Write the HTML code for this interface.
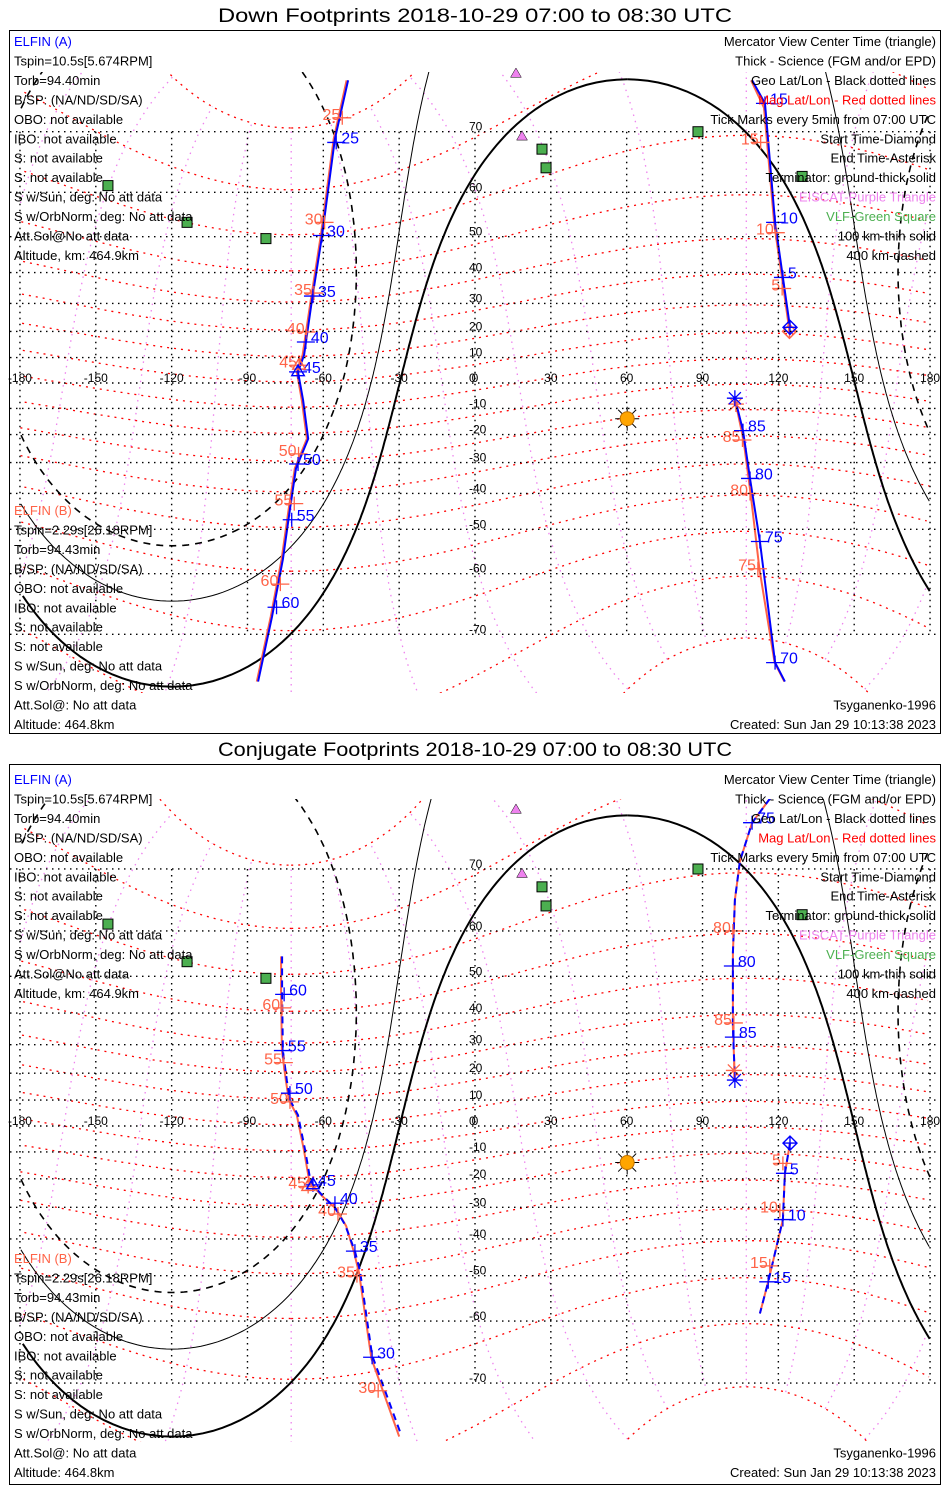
<!DOCTYPE html>
<html><head><meta charset="utf-8"><style>
html,body{margin:0;padding:0;background:#fff;width:950px;height:1500px;overflow:hidden;}
svg{display:block;font-family:"Liberation Sans",sans-serif;}
</style></head><body>
<svg id="chart" width="950" height="1500" viewBox="0 0 950 1500" xmlns="http://www.w3.org/2000/svg"></svg>
<script>
// ---------- data ----------
const latTicks = [70,60,50,40,30,20,10,0,-10,-20,-30,-40,-50,-60,-70];
const lonTicks = [-180,-150,-120,-90,-60,-30,0,30,60,90,120,150,180];
const magPole = [80.5, -72.7];
const sunPos = [-14.0, 60.2];
const vlfLon = [-145.2,-113.9,-82.7,26.5,28.1,88.2,129.4];
const vlfLat = [61.3,53.5,49.5,67.5,64.5,70.0,63.0];
const eiscatLon = [16.2,18.6];
const eiscatLat = [76.5,69.3];

// Panel 1 (down footprints) - ELFIN A
const d1aLon = [-50.2,-55.4,-60.5,-64.5,-67.6,-70.0,-68.0,-66.0,-70.8,-73.2,-76.0,-80.3,-85.8];
const d1aLat = [75.9,69.0,50.3,31.0,11.0,4.4,-6.8,-21.5,-32.0,-44.5,-57.0,-67.5,-75.5];
const d1aTickMin = [25,30,35,40,45,50,55,60];
const d1aTickLon = [-54.9,-60.5,-64.1,-66.9,-70.0,-70.0,-72.5,-78.5];
const d1aTickLat = [68.5,50.3,32.5,16.0,4.4,-30.5,-47.5,-66.0];
const d2aLon = [124.6,121.8,118.7,114.7,109.6];
const d2aLat = [21.5,38.5,53.5,73.5,75.9];
const d2aTickMin = [5,10,15];
const d2aTickLon = [121.8,118.7,114.7];
const d2aTickLat = [38.5,53.5,73.5];
const d3aLon = [102.8,106.0,108.8,112.7,118.7,122.6];
const d3aLat = [-6.0,-18.5,-35.3,-53.0,-73.5,-75.5];
const d3aTickMin = [85,80,75,70];
const d3aTickLon = [106.0,108.8,112.7,118.7];
const d3aTickLat = [-18.5,-35.3,-53.0,-73.5];
// Panel 1 - ELFIN B
const d1bLon = [-50.8,-55.9,-61.0,-65.0,-68.2,-70.5,-68.5,-66.5,-71.3,-73.7,-76.5,-80.8,-86.3];
const d1bLat = [75.9,69.0,50.3,31.0,11.0,4.4,-6.8,-21.5,-32.0,-44.5,-57.0,-67.5,-75.5];
const d1bTickMin = [25,30,35,40,45,50,55,60];
const d1bTickLon = [-52.5,-59.5,-63.7,-66.6,-69.6,-69.8,-71.5,-77.0];
const d1bTickLat = [71.8,53.5,33.5,19.8,7.0,-27.0,-43.0,-62.0];
const d2bLon = [124.4,121.6,118.4,114.3,109.2];
const d2bLat = [20.0,37.5,53.0,73.0,75.9];
const d2bTickMin = [5,10,15];
const d2bTickLon = [121.5,119.0,113.0];
const d2bTickLat = [35.0,51.0,68.5];
const d3bLon = [103.2,106.2,109.0,112.5,118.5,122.4];
const d3bLat = [-8.3,-22.0,-40.0,-59.0,-73.5,-75.5];
const d3bTickMin = [85,80,75];
const d3bTickLon = [105.8,108.8,111.9];
const d3bTickLat = [-22.0,-40.0,-59.0];

// Panel 2 (conjugate footprints) - ELFIN A
const c1aLon = [-76.3,-76.3,-76.0,-74.4,-73.2,-70.0,-67.2,-65.3,-64.1,-60.5,-55.4,-51.4,-47.5,-45.5,-40.7,-29.7];
const c1aLat = [54.7,45.3,28.0,17.2,10.0,4.2,-9.2,-19.6,-22.2,-25.8,-30.0,-35.7,-43.5,-48.8,-66.0,-75.5];
const c1aTickMin = [60,55,50,45,40,35,30];
const c1aTickLon = [-75.5,-76.0,-73.2,-64.1,-55.4,-47.5,-40.7];
const c1aTickLat = [45.3,28.0,12.6,-22.2,-28.6,-43.5,-66.3];
const c2aLon = [116.7,109.6,104.8,102.8,102.0,102.0,102.8];
const c2aLat = [77.5,75.3,71.0,65.5,55.5,35.5,17.5];
const c2aTickMin = [75,80,85];
const c2aTickLon = [109.6,102.0,102.4];
const c2aTickLat = [75.3,52.5,32.5];
const c3aLon = [124.6,122.6,121.8,116.0,112.7];
const c3aLat = [-6.6,-18.0,-34.0,-51.5,-58.5];
const c3aTickMin = [5,10,15];
const c3aTickLon = [122.6,121.8,116.0];
const c3aTickLat = [-18.0,-34.0,-51.5];
// Panel 2 - ELFIN B
const c1bLon = [-76.7,-76.7,-76.4,-74.8,-73.6,-70.5,-67.7,-65.8,-64.6,-60.0,-55.0,-51.0,-47.8,-45.8,-41.0,-30.0];
const c1bLat = [54.7,45.3,28.0,17.2,10.0,4.2,-9.2,-19.6,-22.2,-26.5,-30.5,-36.0,-44.0,-49.5,-66.5,-76.0];
const c1bTickMin = [60,55,50,45,40,35,30];
const c1bTickLon = [-76.3,-75.6,-73.2,-66.0,-54.2,-46.7,-38.3];
const c1bTickLat = [41.5,23.8,9.3,-22.8,-32.2,-50.0,-71.0];
const c2bTickMin = [80,85];
const c2bTickLon = [102.0,102.4];
const c2bTickLat = [60.0,37.0];
const c3bTickMin = [5,10,15];
const c3bTickLon = [121.8,120.6,116.6];
const c3bTickLat = [-14.3,-31.0,-47.5];

// ---------- helpers ----------
const svg = document.getElementById('chart');
const NS = 'http://www.w3.org/2000/svg';
const D = Math.PI/180;
const RED = '#ff6347', BLUE = '#0000ff';
function mk(tag, attrs, parent){
  const e = document.createElementNS(NS, tag);
  for (const k in attrs) e.setAttribute(k, attrs[k]);
  (parent||svg).appendChild(e);
  return e;
}
function txt(s, x, y, o, parent){
  const e = mk('text', {x:x, y:y, 'font-size':o.size||13, fill:o.fill||'#000', 'text-anchor':o.anchor||'start'}, parent);
  if (o.len) { e.setAttribute('textLength', o.len); e.setAttribute('lengthAdjust','spacingAndGlyphs'); }
  e.textContent = s;
  return e;
}
function panelScale(p){
  return {
    x: lon => 475 + lon*2.528,
    y: lat => {
      const l = Math.max(-86, Math.min(86, lat));
      const y = p.y0 - p.k*Math.log(Math.tan(Math.PI/4 + l*D/2));
      return Math.max(p.top+2, Math.min(p.top+p.h-2, y));
    }
  };
}
function drawSegs(g, pts, s, style, name){
  let segs=[[]];
  for (let i=0;i<pts.length;i++){
    if (i>0 && Math.abs(pts[i][0]-pts[i-1][0])>180) segs.push([]);
    segs[segs.length-1].push(pts[i]);
  }
  segs.forEach(seg=>{
    if (seg.length<2) return;
    const d = seg.map((q,i)=>(i?'L':'M')+s.x(q[0]).toFixed(1)+','+s.y(q[1]).toFixed(1)).join('');
    const e = mk('path', Object.assign({d:d, fill:'none'}, style), g);
    
    
  });
}
function norm(l){ while(l>180) l-=360; while(l<-180) l+=360; return l; }
function smallCircle(c, r){
  const pts=[], f1=c[0]*D, l1=c[1]*D, rr=r*D;
  for (let t=0;t<=360;t+=1){
    const th=t*D;
    const f2=Math.asin(Math.sin(f1)*Math.cos(rr)+Math.cos(f1)*Math.sin(rr)*Math.cos(th));
    const l2=l1+Math.atan2(Math.sin(th)*Math.sin(rr)*Math.cos(f1), Math.cos(rr)-Math.sin(f1)*Math.sin(f2));
    pts.push([norm(l2/D), f2/D]);
  }
  return pts;
}
function magToGeo(mlat, mlon){
  const c=(90-magPole[0])*D, lp=magPole[1]*D;
  const v=[Math.cos(mlat*D)*Math.cos(mlon*D), Math.cos(mlat*D)*Math.sin(mlon*D), Math.sin(mlat*D)];
  const a=[Math.cos(c)*v[0]+Math.sin(c)*v[2], v[1], -Math.sin(c)*v[0]+Math.cos(c)*v[2]];
  const b=[Math.cos(lp)*a[0]-Math.sin(lp)*a[1], Math.sin(lp)*a[0]+Math.cos(lp)*a[1], a[2]];
  return [Math.atan2(b[1],b[0])/D, Math.asin(b[2])/D];
}
function polyline(g, lons, lats, s, style, name){
  const d = lons.map((l,i)=>(i?'L':'M')+s.x(l).toFixed(1)+','+s.y(lats[i]).toFixed(1)).join('');
  const e = mk('path', Object.assign({d:d, fill:'none'}, style), g);
  
  
}
function ticks(g, mins, lons, lats, s, color, side, name){
  mins.forEach((m,i)=>{
    const x=s.x(lons[i]), y=s.y(lats[i]);
    const t = mk('path', {d:`M${x-9},${y}H${x+9}M${x},${y-7}V${y+7}`, stroke:color, 'stroke-width':1.3, fill:'none'}, g);
    
    
    const lb = side>0 ? txt(String(m), x+5, y+1, {size:16, fill:color}, g) : txt(String(m), x-2, y+2, {size:16, fill:color, anchor:'end'}, g);
    
    
  });
}
function triangle(g, x, y, color, sz, fill){
  return mk('path', {d:`M${x},${y-sz}L${x+sz*0.9},${y+sz*0.55}L${x-sz*0.9},${y+sz*0.55}Z`, stroke:color, 'stroke-width':1.4, fill:fill||'none'}, g);
}
function diamond(g, x, y, color){
  return mk('path', {d:`M${x},${y-7}L${x+7},${y}L${x},${y+7}L${x-7},${y}ZM${x-7},${y}H${x+7}M${x},${y-7}V${y+7}`, stroke:color, 'stroke-width':1.4, fill:'none'}, g);
}
function asterisk(g, x, y, color){
  return mk('path', {d:`M${x-8},${y}H${x+8}M${x},${y-8}V${y+8}M${x-6},${y-6}L${x+6},${y+6}M${x-6},${y+6}L${x+6},${y-6}`, stroke:color, 'stroke-width':1.3, fill:'none'}, g);
}

// ---------- panel ----------
function panel(p){
  const s = panelScale(p);
  const frame = mk('rect', {x:9.5, y:p.top+0.5, width:931, height:p.h, fill:'none', stroke:'#000', 'stroke-width':1});
  
  
  const t = txt(p.title, 475, p.top-8, {size:19, anchor:'middle', len:514});
  
  

  const cp = mk('clipPath', {id:'clip-'+p.id});
  mk('rect', {x:10, y:p.mapTop, width:930, height:p.mapBot-p.mapTop}, cp);
  const g = mk('g', {'clip-path':'url(#clip-'+p.id+')'});
  
  
  const gg = mk('g', {});
  
  

  for (let ml=0; ml<360; ml+=30){
    const pts=[]; for (let a=-80;a<=80;a+=2) pts.push(magToGeo(a, ml));
    drawSegs(g, pts, s, {stroke:'#ee82ee', 'stroke-width':1.3, 'stroke-dasharray':'1.5,5'}, 'mag-lon-line');
  }
  for (let ma=-80; ma<=80; ma+=10){
    const pts=[]; for (let ml=0;ml<=360;ml+=2) pts.push(magToGeo(ma, ml));
    drawSegs(g, pts, s, {stroke:'#ff0000', 'stroke-width':1.3, 'stroke-dasharray':'2,5'}, 'mag-lat-line');
  }
  const yTop=s.y(70), yBot=s.y(-70);
  latTicks.forEach(la=>{
    const y=s.y(la);
    const l = mk('line', {x1:10, x2:940, y1:y, y2:y, stroke:'#000', 'stroke-width':1.4, 'stroke-dasharray':'1.5,4.5'}, gg);
    
    
    const tl = txt(String(la), 469, y-1, {size:12}, gg);
    
    
  });
  lonTicks.forEach(lo=>{
    const x=s.x(lo);
    const l = mk('line', {x1:x, x2:x, y1:yTop, y2:yBot, stroke:'#000', 'stroke-width':1.4, 'stroke-dasharray':'1.5,4.5'}, gg);
    
    
    const tl = txt(String(lo), x, s.y(0)-1, {size:12, anchor:'middle'}, gg);
    
    
  });
  drawSegs(g, smallCircle(sunPos, 90), s, {stroke:'#000', 'stroke-width':2}, 'terminator-ground');
  drawSegs(g, smallCircle(sunPos, 101), s, {stroke:'#000', 'stroke-width':1}, 'terminator-100km');
  drawSegs(g, smallCircle(sunPos, 112), s, {stroke:'#000', 'stroke-width':1.6, 'stroke-dasharray':'7,6'}, 'terminator-400km');
  const sx=s.x(sunPos[1]), sy=s.y(sunPos[0]);
  const rays = mk('path', {d:`M${sx-12},${sy}H${sx+12}M${sx},${sy-12}V${sy+12}M${sx-9},${sy-9}L${sx+9},${sy+9}M${sx-9},${sy+9}L${sx+9},${sy-9}`, stroke:'#000', 'stroke-width':1});
  
  
  const sun = mk('circle', {cx:sx, cy:sy, r:7, fill:'#ffa500', stroke:'#c07000'});
  
  
  vlfLon.forEach((lo,i)=>{
    const r = mk('rect', {x:s.x(lo)-5, y:s.y(vlfLat[i])-5, width:10, height:10, fill:'#4caf50', stroke:'#000', 'stroke-width':1});
    
    
  });
  eiscatLon.forEach((lo,i)=>{
    const e = triangle(svg, s.x(lo), s.y(eiscatLat[i]), '#000', 6, '#ee82ee');
    e.setAttribute('stroke-width', 0.5);
    
    
  });
  p.draw(g, s);

  const left = [['ELFIN (A)',BLUE]].concat(p.aLines.map(l=>[l,'#000']));
  left.forEach((l,i)=>{ const e=txt(l[0], 14, p.aY+i*p.step, {fill:l[1], size:13});   });
  const leftB = [['ELFIN (B)',RED]].concat(p.bLines.map(l=>[l,'#000']));
  leftB.forEach((l,i)=>{ const e=txt(l[0], 14, p.bY+i*p.step, {fill:l[1], size:13});   });
  const right = [['Mercator View Center Time (triangle)','#000'],['Thick - Science (FGM and/or EPD)','#000'],['Geo Lat/Lon - Black dotted lines','#000'],['Mag Lat/Lon - Red dotted lines','#ff0000'],['Tick Marks every 5min from 07:00 UTC','#000'],['Start Time-Diamond','#000'],['End Time-Asterisk','#000'],['Terminator: ground-thick solid','#000'],['EISCAT-Purple Triangle','#ee82ee'],['VLF-Green Square','#4caf50'],['100 km-thin solid','#000'],['400 km-dashed','#000']];
  right.forEach((l,i)=>{ const e=txt(l[0], 936, p.aY+i*p.step, {fill:l[1], anchor:'end', size:13});   });
  const m1=txt('Tsyganenko-1996', 936, p.bY+10*p.step, {anchor:'end'});  
  const m2=txt('Created: Sun Jan 29 10:13:38 2023', 936, p.bY+11*p.step, {anchor:'end'});  
}

const aLines=['Tspin=10.5s[5.674RPM]','Torb=94.40min','B/SP: (NA/ND/SD/SA)','OBO: not available','IBO: not available','S: not available','S: not available','S w/Sun, deg: No att data','S w/OrbNorm, deg: No att data','Att.Sol@No att data','Altitude, km: 464.9km'];
const bLines=['Tspin=2.29s[26.18RPM]','Torb=94.43min','B/SP: (NA/ND/SD/SA)','OBO: not available','IBO: not available','S: not available','S: not available','S w/Sun, deg: No att data','S w/OrbNorm, deg: No att data','Att.Sol@: No att data','Altitude: 464.8km'];

panel({id:'down-panel', top:30, h:703, y0:383, k:144.8, mapTop:72, mapBot:693, title:'Down Footprints 2018-10-29 07:00 to 08:30 UTC',
  aY:46, bY:515, step:19.45, aLines:aLines, bLines:bLines,
  draw:(g,s)=>{
    const rs={stroke:RED,'stroke-width':2}, bs={stroke:BLUE,'stroke-width':2};
    polyline(g,d1bLon,d1bLat,s,rs,'elfin-b-track'); polyline(g,d2bLon,d2bLat,s,rs,'elfin-b-track'); polyline(g,d3bLon,d3bLat,s,rs,'elfin-b-track');
    polyline(g,d1aLon,d1aLat,s,bs,'elfin-a-track'); polyline(g,d2aLon,d2aLat,s,bs,'elfin-a-track'); polyline(g,d3aLon,d3aLat,s,bs,'elfin-a-track');
    ticks(g,d1bTickMin,d1bTickLon,d1bTickLat,s,RED,-1,'elfin-b'); ticks(g,d2bTickMin,d2bTickLon,d2bTickLat,s,RED,-1,'elfin-b'); ticks(g,d3bTickMin,d3bTickLon,d3bTickLat,s,RED,-1,'elfin-b');
    ticks(g,d1aTickMin,d1aTickLon,d1aTickLat,s,BLUE,1,'elfin-a'); ticks(g,d2aTickMin,d2aTickLon,d2aTickLat,s,BLUE,1,'elfin-a'); ticks(g,d3aTickMin,d3aTickLon,d3aTickLat,s,BLUE,1,'elfin-a');
    let e;
    e=triangle(g,s.x(d1bTickLon[4]),s.y(d1bTickLat[4]),RED,7);  
    e=triangle(g,s.x(d1aTickLon[4]),s.y(d1aTickLat[4]),BLUE,7);  
    e=diamond(g,s.x(d2bLon[0]),s.y(d2bLat[0]),RED);  
    e=diamond(g,s.x(d2aLon[0]),s.y(d2aLat[0]),BLUE);  
    e=asterisk(g,s.x(d3bLon[0]),s.y(d3bLat[0]),RED);  
    e=asterisk(g,s.x(d3aLon[0]),s.y(d3aLat[0]),BLUE);  
  }});

panel({id:'conjugate-panel', top:764, h:720, y0:1126, k:148.1, mapTop:799, mapBot:1442, title:'Conjugate Footprints 2018-10-29 07:00 to 08:30 UTC',
  aY:784, bY:1263, step:19.45, aLines:aLines, bLines:bLines,
  draw:(g,s)=>{
    const rs={stroke:RED,'stroke-width':2}, bs={stroke:BLUE,'stroke-width':2,'stroke-dasharray':'7,5'};
    polyline(g,c1bLon,c1bLat,s,rs,'elfin-b-track'); polyline(g,c2aLon,c2aLat,s,rs,'elfin-b-track'); polyline(g,c3aLon,c3aLat,s,rs,'elfin-b-track');
    polyline(g,c1aLon,c1aLat,s,bs,'elfin-a-track'); polyline(g,c2aLon,c2aLat,s,bs,'elfin-a-track'); polyline(g,c3aLon,c3aLat,s,bs,'elfin-a-track');
    ticks(g,c1bTickMin,c1bTickLon,c1bTickLat,s,RED,-1,'elfin-b'); ticks(g,c2bTickMin,c2bTickLon,c2bTickLat,s,RED,-1,'elfin-b'); ticks(g,c3bTickMin,c3bTickLon,c3bTickLat,s,RED,-1,'elfin-b');
    ticks(g,c1aTickMin,c1aTickLon,c1aTickLat,s,BLUE,1,'elfin-a'); ticks(g,c2aTickMin,c2aTickLon,c2aTickLat,s,BLUE,1,'elfin-a'); ticks(g,c3aTickMin,c3aTickLon,c3aTickLat,s,BLUE,1,'elfin-a');
    let e;
    e=triangle(g,s.x(c1bTickLon[3]),s.y(c1bTickLat[3]),RED,7);  
    e=triangle(g,s.x(c1aTickLon[3]),s.y(c1aTickLat[3]),BLUE,7);  
    e=diamond(g,s.x(c3aLon[0]),s.y(c3aLat[0]),BLUE);  
    e=asterisk(g,s.x(102.4),s.y(21.0),RED);  
    e=asterisk(g,s.x(c2aLon[6]),s.y(c2aLat[6]),BLUE);  
  }});
</script>
</body></html>
